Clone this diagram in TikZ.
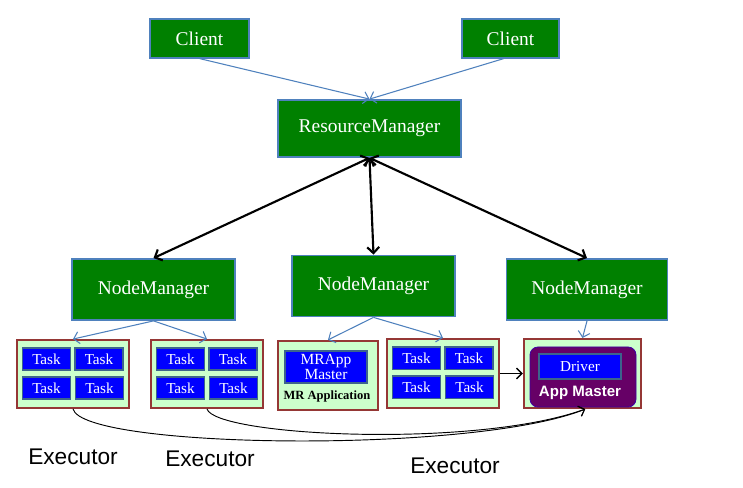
\documentclass[tikz,border=0pt]{standalone}
\usepackage{fontspec}
\setmainfont{Liberation Serif}
\setsansfont{Liberation Sans}
\usetikzlibrary{arrows.meta}
\definecolor{boxgreen}{RGB}{0,128,0}
\definecolor{edgeblue}{RGB}{79,129,189}
\definecolor{taskblue}{RGB}{0,0,255}
\definecolor{taskedge}{RGB}{60,100,140}
\definecolor{paleback}{RGB}{204,255,204}
\definecolor{execred}{RGB}{149,55,53}
\definecolor{ampurple}{RGB}{102,0,102}
\begin{document}
\begin{tikzpicture}[x=0.75pt,y=-0.75pt,
    mgr/.style={draw=edgeblue,line width=1.1pt,fill=boxgreen,text=white,
      inner sep=0pt,font=\fontsize{14.6}{16}\selectfont},
    task/.style={draw=taskedge,line width=1.4pt,fill=taskblue,text=white,
      minimum width=36pt,minimum height=16.6pt,inner sep=0pt,
      font=\fontsize{11.4}{12}\selectfont},
    holder/.style={draw=execred,line width=1.4pt,fill=paleback,inner sep=0pt},
    exlabel/.style={font=\sffamily\fontsize{17}{19}\selectfont},
    thin arrow/.style={edgeblue,line width=0.8pt,-{Straight Barb[length=4pt,width=9pt]}},
    thick arrow/.style={black,line width=1.6pt,
      {Straight Barb[length=4.5pt,width=9pt]}-{Straight Barb[length=4.5pt,width=9pt]}}]
  \useasboundingbox (0,0) rectangle (743,488);
  % clients and resource manager
  \node (c1) at (199.5,38.5) [mgr,minimum width=74pt,minimum height=29pt] {Client};
  \node (c2) at (510.5,38.5) [mgr,minimum width=73pt,minimum height=29pt] {Client};
  \node (rm) at (369.5,128.5) [mgr,minimum width=137pt,minimum height=43pt] {ResourceManager};
  % node managers
  \node (nm1) at (153.5,289.5) [mgr,minimum width=122pt,minimum height=46pt] {NodeManager};
  \node (nm2) at (373.5,286) [mgr,minimum width=122pt,minimum height=46pt] {NodeManager};
  \node (nm3) at (587,289.5) [mgr,minimum width=121pt,minimum height=46pt] {NodeManager};
  % containers
  \node (e1) at (73,374) [holder,minimum width=84pt,minimum height=51pt] {};
  \node (e2) at (207,374) [holder,minimum width=84pt,minimum height=51pt] {};
  \node (mr) at (328,375.5) [holder,minimum width=75pt,minimum height=52pt] {};
  \node (e3) at (443,373.5) [holder,minimum width=84pt,minimum height=52pt] {};
  \node (am) at (582.5,373.5) [holder,minimum width=88pt,minimum height=52pt] {};
  % tasks
  \node (t1) at (46.5,359) [task] {Task};
  \node (t2) at (99,359) [task] {Task};
  \node (t3) at (46.5,388) [task] {Task};
  \node (t4) at (99.5,388) [task] {Task};
  \node (t5) at (180.5,359) [task] {Task};
  \node (t6) at (233,359) [task] {Task};
  \node (t7) at (180.5,388) [task] {Task};
  \node (t8) at (233.5,388) [task] {Task};
  \node (t9) at (416.5,358.5) [task] {Task};
  \node (t10) at (469,358.5) [task] {Task};
  \node (t11) at (416.5,387.5) [task] {Task};
  \node (t12) at (469.5,387.5) [task] {Task};
  % MR application
  \node (mrapp) at (326,367) [task,minimum width=61.5pt,minimum height=24pt,align=center,
    font=\fontsize{11.6}{10}\selectfont] {MRApp\\Master};
  \node (mrtext) at (327,396) [font=\bfseries\fontsize{9.4}{10}\selectfont] {MR Application};
  % application master
  \node (amp) at (583,377) [fill=ampurple,draw=ampurple!60!blue,line width=0.6pt,
    rounded corners=6pt,minimum width=79.5pt,minimum height=45pt] {};
  \node (drv) at (580,366.5) [task,minimum width=61.5pt,minimum height=18.75pt] {Driver};
  \node (amtext) at (580,393) [text=white,font=\sffamily\bfseries\fontsize{11.3}{12}\selectfont] {App Master};
  % executor labels
  \node (ex1) at (73,457) [exlabel] {Executor};
  \node (ex2) at (210,459) [exlabel] {Executor};
  \node (ex3) at (455,466) [exlabel] {Executor};
  \begin{scope}[thin arrow]
    \draw (c1.south) to (rm.north);
    \draw ([xshift=-5pt]c2.south) to (rm.north);
    \draw (nm1.south) to (e1.north);
    \draw (nm1.south) to (e2.north);
    \draw (nm2.south) to (mr.north);
    \draw (nm2.south) to (e3.north);
    \draw (nm3.south) to (am.north);
  \end{scope}
  \begin{scope}[thick arrow]
    \draw (rm.south) to (nm1.north);
    \draw (rm.south) to (nm2.north);
    \draw (rm.south) to (nm3.north);
  \end{scope}
  \begin{scope}[black,line width=0.7pt]
    \draw[-{Straight Barb[length=4pt,width=8pt]},line width=1.1pt] (e3.east) to (am.west);
    \draw[-{Straight Barb[length=4pt,width=8pt]}] (e1.south) .. controls +(10,40) and +(-112,45) .. ([xshift=2pt]am.south);
    \draw[-{Straight Barb[length=4pt,width=8pt]}] (e2.south) .. controls +(8,27) and +(-112,40) .. ([xshift=2pt]am.south);
  \end{scope}
\end{tikzpicture}
\end{document}
